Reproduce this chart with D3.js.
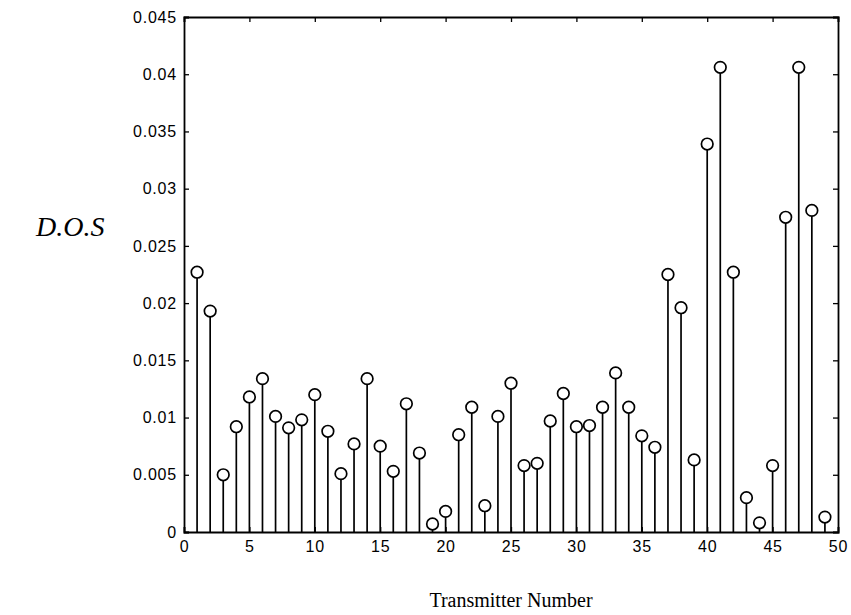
<!DOCTYPE html>
<html>
<head>
<meta charset="utf-8">
<script src="https://cdn.jsdelivr.net/npm/d3@7"></script>
<style>
  body { margin: 0; background: #fff; }
  .tick text { font-family: "Liberation Sans", Arial, sans-serif; font-size: 16px; letter-spacing: 0.8px; }
</style>
</head>
<body>
<svg id="chart" width="851" height="615"></svg>
<script>
// transmitter index 1..49 and its D.O.S value
const transmitters = d3.range(1, 50);
const dos = [
  0.0227, 0.0193, 0.0050, 0.0092, 0.0118, 0.0134, 0.0101, 0.0091, 0.0098, 0.0120,
  0.0088, 0.0051, 0.0077, 0.0134, 0.0075, 0.0053, 0.0112, 0.0069, 0.0007, 0.0018,
  0.0085, 0.0109, 0.0023, 0.0101, 0.0130, 0.0058, 0.0060, 0.0097, 0.0121, 0.0092,
  0.0093, 0.0109, 0.0139, 0.0109, 0.0084, 0.0074, 0.0225, 0.0196, 0.0063, 0.0339,
  0.0406, 0.0227, 0.0030, 0.0008, 0.0058, 0.0275, 0.0406, 0.0281, 0.0013
];
const xTicks = [0, 5, 10, 15, 20, 25, 30, 35, 40, 45, 50];
const yTicks = [0, 0.005, 0.01, 0.015, 0.02, 0.025, 0.03, 0.035, 0.04, 0.045];

const data = transmitters.map((t, i) => ({ t: t, v: dos[i] }));

let svg = d3.select("#chart"),
  plotLeft = 184, plotRight = 838, plotTop = 17, plotBottom = 532;

let x = d3.scaleLinear().domain([0, 50]).range([plotLeft, plotRight]),
  y = d3.scaleLinear().domain([0, 0.045]).range([plotBottom, plotTop]);

const fmt = d => (d === 0 ? "0" : String(+d.toFixed(3)));

// axes, ticks pointing inward like matlab
svg.append("g")
  .attr("transform", "translate(0," + plotBottom + ")")
  .call(d3.axisBottom(x).tickValues(xTicks).tickSize(-5).tickPadding(9).tickFormat(d3.format("d")));
svg.append("g")
  .attr("transform", "translate(0," + plotTop + ")")
  .call(d3.axisTop(x).tickValues(xTicks).tickSize(-5).tickFormat(""));
svg.append("g")
  .attr("transform", "translate(" + plotLeft + ",0)")
  .call(d3.axisLeft(y).tickValues(yTicks).tickSize(-5).tickPadding(7).tickFormat(fmt));
svg.append("g")
  .attr("transform", "translate(" + plotRight + ",0)")
  .call(d3.axisRight(y).tickValues(yTicks).tickSize(-5).tickFormat(""));

svg.selectAll(".domain").attr("stroke", "#000").attr("stroke-width", 1.8);
svg.selectAll(".tick line").attr("stroke", "#000").attr("stroke-width", 1.3);
svg.selectAll(".tick text").attr("fill", "#000");

// stems
svg.selectAll(".stem")
  .data(data)
  .enter()
  .append("line")
  .attr("class", "stem")
  .attr("x1", d => x(d.t))
  .attr("x2", d => x(d.t))
  .attr("y1", y(0))
  .attr("y2", d => y(d.v))
  .attr("stroke", "#000")
  .attr("stroke-width", 1.7);

svg.selectAll(".mark")
  .data(data)
  .enter()
  .append("circle")
  .attr("class", "mark")
  .attr("cx", d => x(d.t))
  .attr("cy", d => y(d.v))
  .attr("r", 5.8)
  .attr("fill", "#fff")
  .attr("stroke", "#000")
  .attr("stroke-width", 1.7);

svg.append("text")
  .attr("x", 36)
  .attr("y", 236)
  .attr("font-family", "Liberation Serif, Times New Roman, serif")
  .attr("font-style", "italic")
  .attr("font-size", "28px")
  .text("D.O.S");

svg.append("text")
  .attr("text-anchor", "middle")
  .attr("x", (plotLeft + plotRight) / 2)
  .attr("y", 607)
  .attr("font-family", "Liberation Serif, Times New Roman, serif")
  .attr("font-size", "20px")
  .text("Transmitter Number");
</script>
</body>
</html>
